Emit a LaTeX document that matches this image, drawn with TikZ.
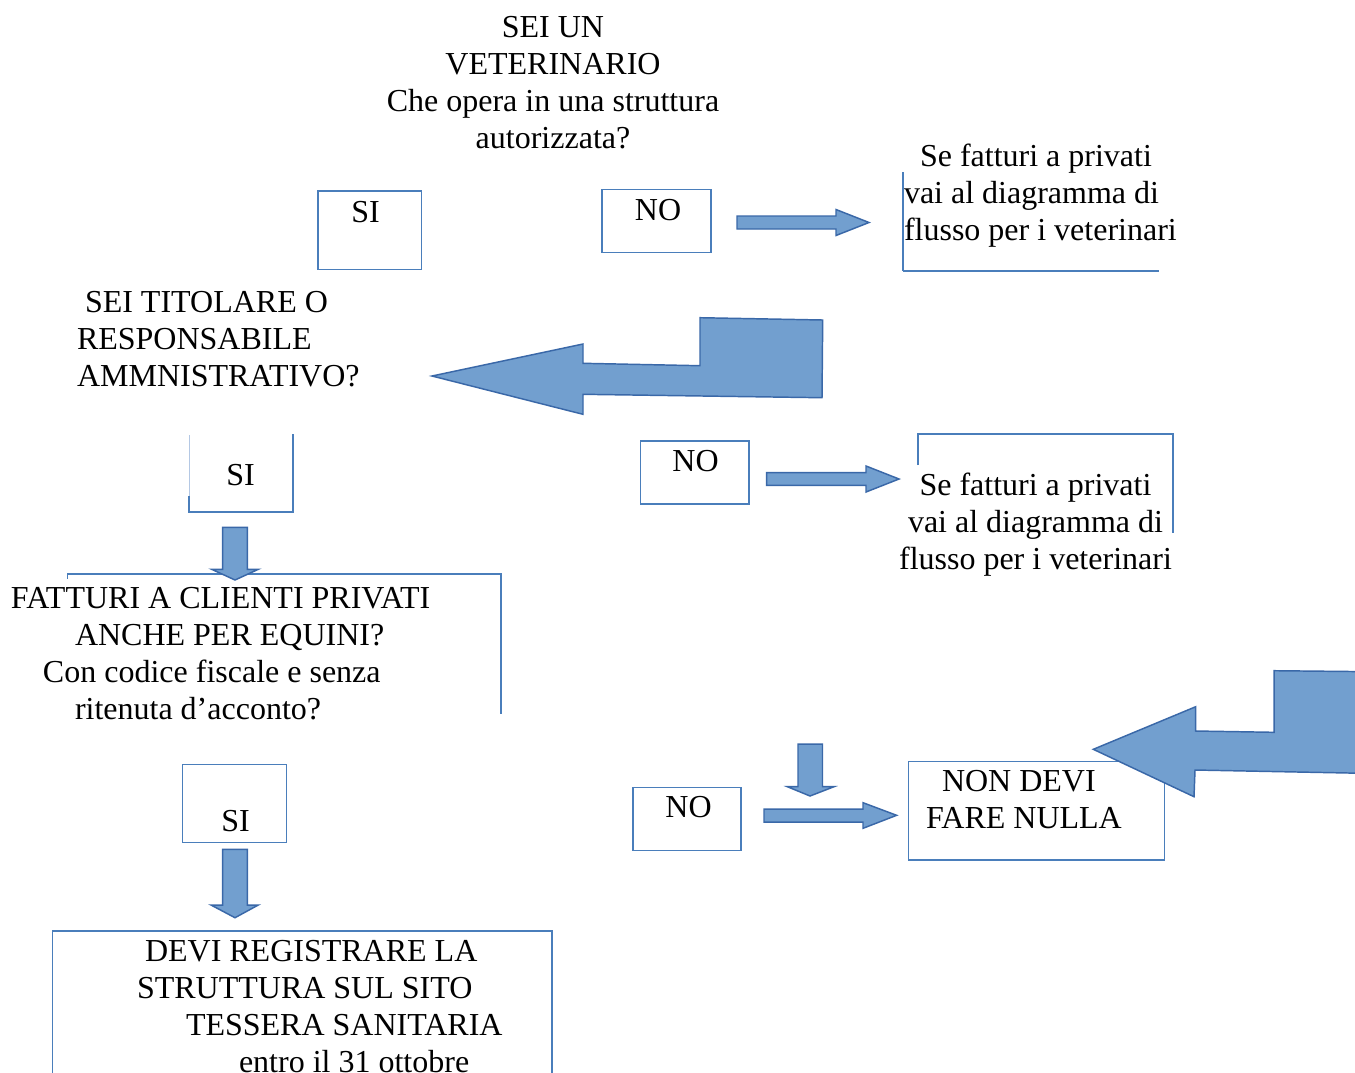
\documentclass[tikz,border=0pt]{standalone}
\usepackage{fontspec}
\setmainfont{Liberation Serif}
\usetikzlibrary{fit}
\definecolor{arrowfill}{HTML}{729FCF}
\definecolor{arrowline}{HTML}{3A68A8}
\definecolor{boxline}{HTML}{4A7EBB}
\definecolor{boxlight}{HTML}{B4C8E4}
\tikzset{
 txt/.style={inner sep=0pt, outer sep=0pt, font=\fontsize{24}{27.75}\selectfont, text width=420pt,
   execute at begin node={\spaceskip=0pt\xspaceskip=0pt\relax}},
 ltxt/.style={txt, align=flush left, anchor=base west},
 ctxt/.style={txt, align=flush center, anchor=base},
 word/.style={inner sep=0pt, outer sep=0pt, font=\fontsize{24}{27.75}\selectfont, anchor=base},
 boxst/.style={draw=boxline, line width=0.8pt, inner sep=0pt, outer sep=0pt},
 edgeline/.style={draw=boxline, line width=0.8pt},
 blockarr/.style={draw=arrowline, fill=arrowfill, line width=1.1pt, line join=miter},
}
\begin{document}
\begin{tikzpicture}[x=0.75pt, y=-0.75pt]
\fill[white] (0,0) rectangle (1355,1072);
\useasboundingbox (0,0) rectangle (1355,1072);

% ---------- boxes ----------
\node[boxst, fit={(318,191) (421.5,269.5)}] (si1) {};
\node[boxst, fit={(602,189.5) (711,252.5)}] (no1) {};
\node[boxst, fit={(640.5,441) (749,504)}] (no2) {};
\node[boxst, fit={(182.7,764.3) (286.7,842.3)}] (si3) {};
\node[boxst, fit={(633,787.7) (741,850.7)}] (no3) {};
\node[boxst, fit={(908.3,761.7) (1164.8,860)}] (nulla) {};

% partial box outlines
\coordinate (trA) at (903,172);
\coordinate (trB) at (903,270.5);
\coordinate (trC) at (1159,270.5);
\draw[edgeline] (trA) -- (trB);
\draw[edgeline, line width=1.5pt] (trB) -- (trC);

\coordinate (s2A) at (189,435);
\coordinate (s2B) at (189,496);
\coordinate (s2C) at (189,512);
\coordinate (s2D) at (293,512);
\coordinate (s2E) at (293,434);
\draw[draw=boxlight, line width=0.5pt] (s2A) -- (s2B);
\draw[edgeline] (s2B) -- (s2C) -- (s2D) -- (s2E);

\coordinate (mrA) at (918,465);
\coordinate (mrB) at (918,434);
\coordinate (mrC) at (1173,434);
\coordinate (mrD) at (1173,533);
\draw[edgeline] (mrA) -- (mrB) -- (mrC) -- (mrD);

\coordinate (faA) at (67.7,578.5);
\coordinate (faB) at (67.7,574);
\coordinate (faC) at (501,574);
\coordinate (faD) at (501,713.5);
\draw[edgeline] (faA) -- (faB) -- (faC) -- (faD);

\coordinate (dvA) at (52.7,1080);
\coordinate (dvB) at (52.7,931);
\coordinate (dvC) at (552,931);
\coordinate (dvD) at (552,1080);
\draw[edgeline] (dvA) -- (dvB) -- (dvC) -- (dvD);

% ---------- block arrows ----------
\draw[blockarr] (737,216) -- (836,216) -- (836,209.5) -- (869,222.5) -- (836,235.5) -- (836,229) -- (737,229) -- cycle;
\draw[blockarr] (766.7,472.7) -- (866,472.7) -- (866,466) -- (899,479) -- (866,492) -- (866,485.3) -- (766.7,485.3) -- cycle;
\draw[blockarr] (764,809) -- (863,809) -- (863,802.7) -- (896.6,815.3) -- (863,828.3) -- (863,822) -- (764,822) -- cycle;
\draw[blockarr] (798,744) -- (822.5,744) -- (822.5,786.7) -- (834,786.7) -- (810,796) -- (787.4,786.7) -- (798,786.7) -- cycle;
\draw[blockarr] (222.7,527.3) -- (247.3,527.3) -- (247.3,569.3) -- (258.3,569.3) -- (235,580) -- (211.7,569.3) -- (222.7,569.3) -- cycle;
\draw[blockarr] (222.7,849.3) -- (247.3,849.3) -- (247.3,905) -- (258.3,905) -- (235,917.7) -- (211,905) -- (222.7,905) -- cycle;
\draw[blockarr] (432,376) -- (583,344) -- (583,363.3) -- (700,365.7) -- (700,317.7) -- (822.7,320) -- (822,397.7) -- (583,394.3) -- (583,414.3) -- cycle;
\draw[blockarr] (1093.3,749.3) -- (1195.7,706.7) -- (1195.7,731) -- (1274,732.3) -- (1274,670.7) -- (1400,672) -- (1400,774) -- (1195,770) -- (1194,796.7) -- cycle;

% ---------- texts ----------
\node[ctxt] (q1) at (553,37.5) {SEI UN\\VETERINARIO\\Che opera in una struttura\\autorizzata?};
\node[word] (si1t) at (365.5,222) {SI};
\node[word] (no1t) at (658,220.5) {NO};
\node[ltxt] (tr) at (904,166) {\hspace*{12pt}Se fatturi a privati\\vai al diagramma di\\flusso per i veterinari};
\node[ltxt] (q2) at (77,312) {\hspace*{6pt}SEI TITOLARE O\\RESPONSABILE\\AMMNISTRATIVO?};
\node[word] (si2t) at (240.5,485) {SI};
\node[word] (no2t) at (695.5,471) {NO};
\node[ctxt] (mr) at (1035.5,495) {Se fatturi a privati\\vai al diagramma di\\flusso per i veterinari};
\node[ltxt] (q3) at (11,608) {FATTURI A CLIENTI PRIVATI\\\hspace*{48pt}ANCHE PER EQUINI?\\\hspace*{24pt}Con codice fiscale e senza\\\hspace*{48pt}ritenuta d’acconto?};
\node[word] (si3t) at (235.5,831.5) {SI};
\node[word] (no3t) at (688.5,817.5) {NO};
\node[ltxt] (nd) at (926,791) {\hspace*{12pt}NON DEVI\\FARE NULLA};
\node[ltxt] (dv) at (137,961) {\hspace*{6pt}DEVI REGISTRARE LA\\STRUTTURA SUL SITO\\\hspace*{36.75pt}TESSERA SANITARIA\\\hspace*{76.5pt}entro il 31 ottobre};
\end{tikzpicture}
\end{document}
